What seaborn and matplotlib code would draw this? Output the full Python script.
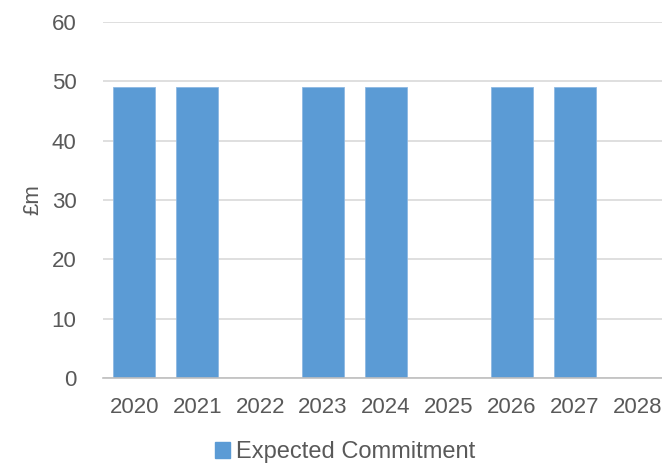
import matplotlib
matplotlib.use("Agg")
import matplotlib.pyplot as plt
import seaborn as sns
import pandas as pd
from matplotlib.patches import Patch
from matplotlib.ticker import FixedLocator

years = ["2020", "2021", "2022", "2023", "2024", "2025", "2026", "2027", "2028"]
commitment = [49, 49, 0, 49, 49, 0, 49, 49, 0]
series_name = "Expected Commitment"
y_ticks = [0, 10, 20, 30, 40, 50, 60]

sns.set_style("white")
plt.rcParams['font.family'] = ['Liberation Sans', 'DejaVu Sans']

df = pd.DataFrame({"year": years, "value": commitment})
bar_color = "#5B9BD5"
text_color = "#595959"

fig = plt.figure(figsize=(6.62, 4.66), dpi=100)
ax = fig.add_axes([103/662, 88/466, (669-103)/662, (378-22)/466])

sns.barplot(data=df, x="year", y="value", color=bar_color, width=0.667,
            saturation=1, ax=ax, edgecolor="#8DB8E3", linewidth=0.6)

ax.set_xlim(-0.5, len(years) - 0.5)
ax.set_ylim(0, 60)
ax.set_yticks(y_ticks)
ax.yaxis.grid(True, color="#D9D9D9", linewidth=1.2)
ax.set_axisbelow(True)

for s in ["top", "right", "left"]:
    ax.spines[s].set_visible(False)
ax.spines["bottom"].set_color("#BFBFBF")
ax.spines["bottom"].set_linewidth(1.2)

ax.tick_params(axis="y", length=0, pad=19, labelsize=16, labelcolor=text_color)
ax.tick_params(axis="x", which="major", length=0, pad=14, labelsize=16, labelcolor=text_color)
ax.xaxis.set_minor_locator(FixedLocator([i - 0.5 for i in range(len(years) + 1)]))
ax.tick_params(axis="x", which="minor", length=5, width=1.2, color="#BFBFBF", direction="out")

ax.set_xlabel("")
ax.set_ylabel("£m", fontsize=16, color=text_color, labelpad=6)

handles = [Patch(facecolor=bar_color, edgecolor=bar_color, label=series_name)]
fig.legend(handles=handles, loc="center", bbox_to_anchor=(345/662, 1 - 452/466),
           frameon=False, fontsize=17, labelcolor=text_color,
           handlelength=0.65, handleheight=0.65, handletextpad=0.25)

fig.savefig("out.png", dpi=100)
